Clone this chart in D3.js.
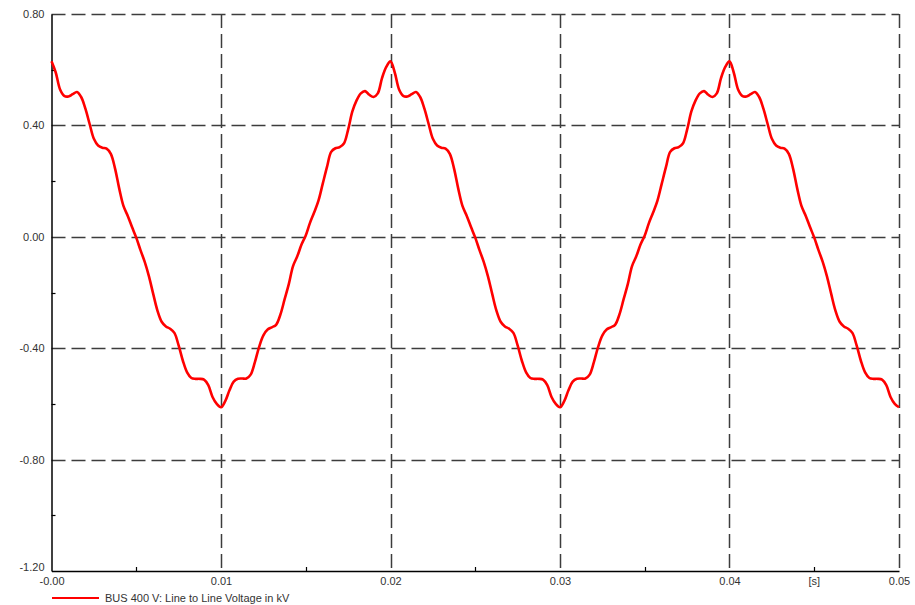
<!DOCTYPE html>
<html>
<head>
<meta charset="utf-8">
<script src="https://cdn.jsdelivr.net/npm/d3@7"></script>
<style>
  html, body { margin: 0; padding: 0; background: #ffffff; }
  svg { display: block; font-family: "Liberation Sans", Arial, sans-serif; }
</style>
</head>
<body>
<svg id="chart" width="915" height="605"></svg>
<script>
// Line-to-line voltage at BUS 400 V, sampled every 0.25 ms (kV)
const sampleStep = 0.00025;

// first cycle, 0 .. 0.01975 s
const voltageCycle1 = [
  0.630, 0.590, 0.530, 0.506, 0.504, 0.512, 0.520, 0.502, 0.460, 0.405,
  0.352, 0.328, 0.320, 0.317, 0.298, 0.245, 0.172, 0.110, 0.075, 0.035,
  -0.003, -0.048, -0.090, -0.142, -0.205, -0.265, -0.305, -0.322, -0.330, -0.345,
  -0.390, -0.445, -0.487, -0.507, -0.510, -0.510, -0.513, -0.533, -0.575, -0.600,
  -0.612, -0.590, -0.551, -0.520, -0.510, -0.509, -0.509, -0.495, -0.450, -0.395,
  -0.354, -0.333, -0.325, -0.316, -0.280, -0.225, -0.170, -0.105, -0.070, -0.028,
  0.005, 0.050, 0.088, 0.130, 0.190, 0.250, 0.305, 0.318, 0.322, 0.335,
  0.385, 0.450, 0.490, 0.515, 0.523, 0.510, 0.502, 0.515, 0.570, 0.610
];

// second cycle, 0.02 .. 0.03975 s
const voltageCycle2 = [
  0.630, 0.590, 0.530, 0.506, 0.504, 0.512, 0.520, 0.502, 0.460, 0.405,
  0.352, 0.328, 0.320, 0.317, 0.298, 0.245, 0.172, 0.110, 0.075, 0.035,
  -0.003, -0.048, -0.090, -0.142, -0.205, -0.265, -0.305, -0.322, -0.330, -0.345,
  -0.390, -0.445, -0.487, -0.507, -0.510, -0.510, -0.513, -0.533, -0.575, -0.600,
  -0.612, -0.590, -0.551, -0.520, -0.510, -0.509, -0.509, -0.495, -0.450, -0.395,
  -0.354, -0.333, -0.325, -0.316, -0.280, -0.225, -0.170, -0.105, -0.070, -0.028,
  0.005, 0.050, 0.088, 0.130, 0.190, 0.250, 0.305, 0.318, 0.322, 0.335,
  0.385, 0.450, 0.490, 0.515, 0.523, 0.510, 0.502, 0.515, 0.570, 0.610
];

// final half cycle, 0.04 .. 0.05 s
const voltageHalfCycle = [
  0.630, 0.590, 0.530, 0.506, 0.504, 0.512, 0.520, 0.502, 0.460, 0.405,
  0.352, 0.328, 0.320, 0.317, 0.298, 0.245, 0.172, 0.110, 0.075, 0.035,
  -0.003, -0.048, -0.090, -0.142, -0.205, -0.265, -0.305, -0.322, -0.330, -0.345,
  -0.390, -0.445, -0.487, -0.507, -0.510, -0.510, -0.513, -0.533, -0.575, -0.600,
  -0.612
];

const xMajorTicks = [0, 0.01, 0.02, 0.03, 0.04, 0.05];
const xTickLabels = ["-0.00", "0.01", "0.02", "0.03", "0.04", "0.05"];
const xMinorTicks = [0.005, 0.015, 0.025, 0.035, 0.045];
const yMajorTicks = [-1.2, -0.8, -0.4, 0, 0.4, 0.8];
const yTickLabels = ["-1.20", "-0.80", "-0.40", "0.00", "0.40", "0.80"];
const yMinorTicks = [-1.0, -0.6, -0.2, 0.2, 0.6];
const xUnitLabel = "[s]";
const seriesName = "BUS 400 V: Line to Line Voltage in kV";

const voltages = voltageCycle1.concat(voltageCycle2, voltageHalfCycle);
const points = voltages.map((v, i) => ({ t: i * sampleStep, v: v }));

const svg = d3.select("#chart");
const plot = { left: 51.5, right: 899, top: 14, bottom: 571 };

const x = d3.scaleLinear().domain([0, 0.05]).range([plot.left, plot.right]);
const y = d3.scaleLinear().domain([-1.2, 0.8]).range([plot.bottom, plot.top]);

const gridColor = "#3c3c3c";
const textColor = "#333333";

// dashed grid
svg.append("g")
  .selectAll("line")
  .data(yMajorTicks.filter(d => d > -1.2))
  .join("line")
  .attr("x1", plot.left).attr("x2", plot.right)
  .attr("y1", d => Math.round(y(d)) + 0.5).attr("y2", d => Math.round(y(d)) + 0.5)
  .attr("stroke", gridColor).attr("stroke-width", 1.5)
  .attr("stroke-dasharray", "14,6");

svg.append("g")
  .selectAll("line")
  .data(xMajorTicks.filter(d => d > 0))
  .join("line")
  .attr("x1", d => Math.round(x(d)) + 0.5).attr("x2", d => Math.round(x(d)) + 0.5)
  .attr("y1", plot.top).attr("y2", plot.bottom)
  .attr("stroke", gridColor).attr("stroke-width", 1.5)
  .attr("stroke-dasharray", "14,6");

// axes
const yAxis = d3.axisLeft(y)
  .tickValues(yMajorTicks)
  .tickSize(0)
  .tickPadding(7)
  .tickFormat((d, i) => yTickLabels[i]);

const yAxisG = svg.append("g")
  .attr("transform", `translate(${plot.left},0)`)
  .call(yAxis);
yAxisG.select(".domain").attr("stroke", "#000").attr("stroke-width", 1.5);
yAxisG.selectAll("text")
  .attr("fill", textColor).style("font-size", "11px")
  .attr("dy", (d) => d === -1.2 ? "-0.05em" : "0.32em");

const xAxis = d3.axisBottom(x)
  .tickValues(xMajorTicks)
  .tickSize(0)
  .tickPadding(6)
  .tickFormat((d, i) => xTickLabels[i]);

const xAxisG = svg.append("g")
  .attr("transform", `translate(0,${plot.bottom})`)
  .call(xAxis);
xAxisG.select(".domain").attr("stroke", "#000").attr("stroke-width", 1.5);
xAxisG.selectAll("text").attr("fill", textColor).style("font-size", "11px");

// minor ticks pointing into the plot
svg.append("g")
  .selectAll("line")
  .data(yMinorTicks)
  .join("line")
  .attr("x1", plot.left).attr("x2", plot.left + 4)
  .attr("y1", d => Math.round(y(d)) + 0.5).attr("y2", d => Math.round(y(d)) + 0.5)
  .attr("stroke", "#000").attr("stroke-width", 1.2);

svg.append("g")
  .selectAll("line")
  .data(xMinorTicks)
  .join("line")
  .attr("x1", d => Math.round(x(d)) + 0.5).attr("x2", d => Math.round(x(d)) + 0.5)
  .attr("y1", plot.bottom).attr("y2", plot.bottom - 4)
  .attr("stroke", "#000").attr("stroke-width", 1.2);

// unit label on the time axis
svg.append("text")
  .attr("x", x(0.045)).attr("y", plot.bottom + 6)
  .attr("dy", "0.71em")
  .attr("text-anchor", "middle")
  .attr("fill", textColor).style("font-size", "11px")
  .text(xUnitLabel);

// voltage trace
const line = d3.line()
  .x(d => x(d.t))
  .y(d => y(d.v))
  .curve(d3.curveCatmullRom.alpha(0.5));

svg.append("path")
  .datum(points)
  .attr("d", line)
  .attr("fill", "none")
  .attr("stroke", "#ff0000")
  .attr("stroke-width", 2.6)
  .attr("stroke-linejoin", "round");

// legend
const legend = svg.append("g").attr("transform", "translate(52,598)");
legend.append("line")
  .attr("x1", 0).attr("x2", 47).attr("y1", 0).attr("y2", 0)
  .attr("stroke", "#ff0000").attr("stroke-width", 2.2);
legend.append("text")
  .attr("x", 53).attr("y", 0).attr("dy", "0.35em")
  .attr("fill", textColor).style("font-size", "11px")
  .text(seriesName);
</script>
</body>
</html>
